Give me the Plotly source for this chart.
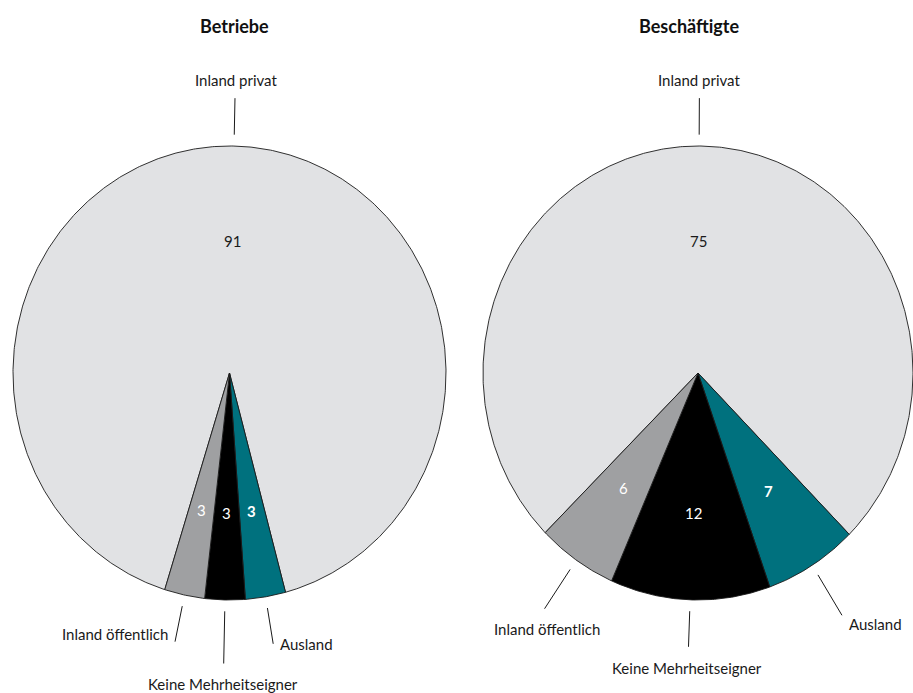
import numpy as np
import plotly.graph_objects as go

# ---- data ----
categories = ["Inland privat", "Ausland", "Keine Mehrheitseigner", "Inland öffentlich"]
betriebe = [91, 3, 3, 3]
beschaeftigte = [75, 7, 12, 6]
titles = ["Betriebe", "Beschäftigte"]

# ---- style ----
colors = ["#e1e2e4", "#00717e", "#000000", "#9fa0a2"]
value_colors = ["#1a1a1a", "white", "white", "white"]
value_bold = [False, True, False, False]
FONT = "Lato"

W, H = 913, 693
# per pie: pixel centre, horizontal and vertical radius, x-domain in px, angle offset
pies = [
    dict(values=betriebe, title=titles[0], cx=229.5, cy=373, rx=216.5, ry=227,
         dom=(0, 456.5), rot=1.2, title_x=234.5,
         line_end=[1.211, 1.21, 1.28, 1.21],
         lab=[("center", 1, 18), ("left", 5, 0), ("center", -1, -20), ("right", -5, 8)]),
    dict(values=beschaeftigte, title=titles[1], cx=698, cy=373, rx=215, ry=227,
         dom=(456.5, 913), rot=0.3, title_x=688.5,
         line_end=[1.211, 1.26, 1.207, 1.26],
         lab=[("center", 0, 18), ("left", 5, -9), ("center", -1, -21), ("center", 2, -20)]),
]

fig = go.Figure()
annotations = []

for k, p in enumerate(pies):
    xa = "x" if k == 0 else "x2"
    ya = "y" if k == 0 else "y2"
    vals = np.array(p["values"], dtype=float)
    total = vals.sum()
    spans = vals / total * 360.0
    start = -spans[0] / 2.0 + p["rot"]
    edges = start + np.concatenate([[0], np.cumsum(spans)])
    for i, cat in enumerate(categories):
        a0, a1 = edges[i], edges[i + 1]
        n = max(3, int((a1 - a0) * 2) + 1)
        th = np.radians(np.linspace(a0, a1, n))
        xs = np.concatenate([[0], np.sin(th), [0]])
        ys = np.concatenate([[0], np.cos(th), [0]])
        fig.add_trace(go.Scatter(x=xs, y=ys, mode="lines", fill="toself",
                                 fillcolor=colors[i],
                                 line=dict(color="#1a1a1a", width=0.9),
                                 hoverinfo="skip", showlegend=False,
                                 xaxis=xa, yaxis=ya))
        mid = np.radians((a0 + a1) / 2.0)
        # value label
        rv = 0.58 if i == 0 else 0.615
        txt = f"<b>{int(vals[i])}</b>" if value_bold[i] else f"{int(vals[i])}"
        annotations.append(dict(x=rv * np.sin(mid), y=rv * np.cos(mid), xref=xa, yref=ya,
                                text=txt, showarrow=False, xanchor="center", yanchor="middle",
                                font=dict(family=FONT, size=15, color=value_colors[i])))
        # leader line
        r0, r1 = 1.05, p["line_end"][i]
        fig.add_trace(go.Scatter(x=[r0 * np.sin(mid), r1 * np.sin(mid)],
                                 y=[r0 * np.cos(mid), r1 * np.cos(mid)],
                                 mode="lines", line=dict(color="#1a1a1a", width=1),
                                 hoverinfo="skip", showlegend=False,
                                 xaxis=xa, yaxis=ya))
        anc, xs_, ys_ = p["lab"][i]
        annotations.append(dict(x=r1 * np.sin(mid), y=r1 * np.cos(mid), xref=xa, yref=ya,
                                text=cat, showarrow=False, xanchor=anc, yanchor="middle",
                                xshift=xs_, yshift=ys_,
                                font=dict(family=FONT, size=15, color="#1a1a1a")))
    annotations.append(dict(x=p["title_x"] / W, y=1 - 26 / H, xref="paper", yref="paper",
                            text=f"<b>{p['title']}</b>", showarrow=False,
                            xanchor="center", yanchor="middle",
                            font=dict(family=FONT, size=18, color="#111111")))

    d0, d1 = p["dom"]
    xr = [-(p["cx"] - d0) / p["rx"], (d1 - p["cx"]) / p["rx"]]
    yr = [-(H - p["cy"]) / p["ry"], p["cy"] / p["ry"]]
    axx = dict(domain=[d0 / W, d1 / W], range=xr, visible=False, fixedrange=True)
    axy = dict(domain=[0, 1], range=yr, visible=False, fixedrange=True)
    if k == 0:
        fig.update_layout(xaxis=dict(axx, anchor="y"), yaxis=dict(axy, anchor="x"))
    else:
        fig.update_layout(xaxis2=dict(axx, anchor="y2"), yaxis2=dict(axy, anchor="x2"))

fig.update_layout(width=W, height=H, margin=dict(l=0, r=0, t=0, b=0),
                  paper_bgcolor="white", plot_bgcolor="white",
                  annotations=annotations, showlegend=False,
                  font=dict(family=FONT))

fig.write_html("out.html", config={"displayModeBar": False},
               post_script="document.body.style.margin='0';")
